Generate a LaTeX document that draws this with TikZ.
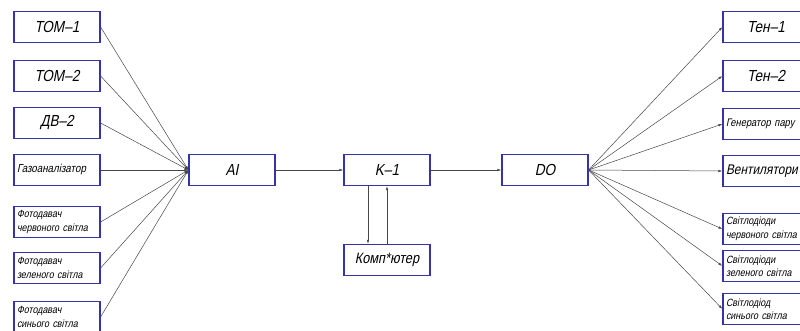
\documentclass[tikz,border=0pt]{standalone}
\usepackage{fontspec}
\setmainfont{Liberation Sans}[FakeSlant=0.2,FakeStretch=0.85]
\usetikzlibrary{arrows.meta,positioning,calc}
\definecolor{boxblue}{RGB}{52,52,168}
\definecolor{wiregray}{RGB}{70,70,70}

\tikzset{
  blk/.style={draw=boxblue, line width=1.2pt, fill=white, minimum width=86pt, minimum height=31pt, inner sep=2pt},
  bigtxt/.style={font=\fontsize{16}{16}\selectfont},
  midtxt/.style={font=\fontsize{11.5}{12}\selectfont, text width=80pt, align=left},
  smalltxt/.style={font=\fontsize{10.5}{13.5}\selectfont, text width=80pt, align=left},
  wire/.style={draw=wiregray, line width=0.5pt, -{Latex[length=4pt,width=2.4pt]}}
}

\begin{document}
\begin{tikzpicture}[x=1pt, y=-1pt]
\useasboundingbox (0,0) rectangle (800,331);
\clip (0,0) rectangle (800,331);

% left column: sensors
\node[blk,bigtxt] (tom1) at (57,27) {ТОМ–1};
\node[blk,bigtxt] (tom2) at (57,76) {ТОМ–2};
\node[blk,bigtxt] (dv2) at (57,123) {ДВ–2};
\node[blk,midtxt] (gaz) at (57,170) {Газоаналізатор};
\node[blk,smalltxt] (fred) at (57,222) {Фотодавач\\червоного світла};
\node[blk,smalltxt] (fgreen) at (57,268) {Фотодавач\\зеленого світла};
\node[blk,smalltxt] (fblue) at (57,317) {Фотодавач\\синього світла};

% middle: AI -> K-1 -> DO
\node[blk,bigtxt] (ai) at (232,170) {AI};
\node[blk,bigtxt] (k1) at (387,170) {K–1};
\node[blk,bigtxt] (do) at (545,170) {DO};
\node[blk,font=\fontsize{15}{15}\selectfont] (pc) at (387,260) {Комп*ютер};

% right column: actuators
\node[blk,bigtxt] (ten1) at (766,27) {Тен–1};
\node[blk,bigtxt] (ten2) at (766,76) {Тен–2};
\node[blk,midtxt,font=\fontsize{11}{11}\selectfont] (gen) at (766,124) {Генератор пару};
\node[blk,midtxt,font=\fontsize{14}{14}\selectfont] (vent) at (766,171) {Вентилятори};
\node[blk,smalltxt] (lred) at (766,229) {Світлодіоди\\червоного світла};
\node[blk,smalltxt] (lgreen) at (766,266) {Світлодіоди\\зеленого світла};
\node[blk,smalltxt] (lblue) at (766,309) {Світлодіод\\синього світла};

\foreach \src in {tom1,tom2,dv2,gaz,fred,fgreen,fblue} \draw[wire] (\src.east) -- (ai.west);
\draw[wire] (ai.east) -- (k1.west);
\draw[wire] (k1.east) -- (do.west);
\draw[wire] ($(k1.south)+(-19,0)$) -- ($(pc.north)+(-19,0)$);
\draw[wire] ($(pc.north)+(0,0)$) -- ($(k1.south)+(0,0)$);
\foreach \dst in {ten1,ten2,gen,vent,lred,lgreen,lblue} \draw[wire] (do.east) -- (\dst.west);
\end{tikzpicture}
\end{document}
